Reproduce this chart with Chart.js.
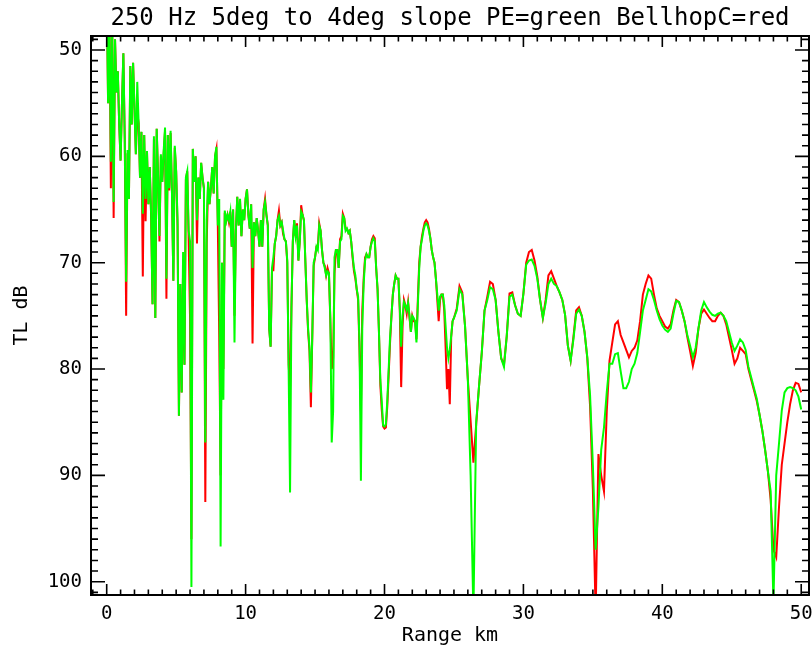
<!DOCTYPE html>
<html>
<head>
<meta charset="utf-8">
<title>250 Hz TL</title>
<script src="https://cdn.jsdelivr.net/npm/chart.js@4.4.1/dist/chart.umd.min.js"></script>
<style>
    html, body { margin: 0; padding: 0; background: #fff; }
    canvas { display: block; }
</style>
</head>
<body>
<canvas id="tlChart" width="812" height="653"></canvas>
<script>
// ===== DATA =====
const chartTitle = "250 Hz 5deg to 4deg slope PE=green BellhopC=red";
const xTitle = "Range km";
const yTitle = "TL dB";
const xTicks = [0, 10, 20, 30, 40, 50];
const yTicks = [50, 60, 70, 80, 90, 100];

// near field: 0.0 - 24.9 km, one value every 0.1 km
const nearStart = 0, nearStep = 0.1;
const peNear = [
    44, 55, 47, 60.5, 48, 64.3, 49, 54, 52, 57,
    60.4, 55, 50.3, 58.4, 71.8, 59.4, 64, 51.5, 57, 51.2,
    55.5, 59.8, 53, 56.9, 62, 57.7, 65.4, 58, 64, 59.5,
    64.5, 61, 65.5, 73.9, 58.1, 75.2, 57.4, 62, 67.5, 59.8,
    62.4, 59.5, 57.3, 71.5, 58, 63, 57.6, 63.5, 71.7, 59,
    61.4, 66, 84.4, 72, 82.2, 69, 79.6, 62, 61.4, 67,
    68, 100.5, 59.3, 62.4, 60, 66, 62, 64, 60.6, 62,
    63, 86.9, 66, 62.4, 64.5, 63, 61, 63.5, 60, 59.1,
    66.5, 64, 96.7, 70, 82.9, 65.1, 66.1, 65.5, 66, 65.2,
    68.5, 65, 77.5, 67, 63.8, 66.5, 64, 67.5, 65, 66,
    64, 63.1, 65.5, 66.8, 64.5, 70.5, 66.2, 67.5, 65.8, 67,
    68.5, 66, 68.5, 65, 64.3, 65.5, 66.5, 76.2, 77.9, 70.5,
    69.5, 68.2, 67.5, 66, 65.6, 66.5, 66.2, 67, 67.8, 68,
    69.8, 80.2, 91.6, 74.2, 68, 66, 67.5, 66.5, 69.8, 68,
    65.2, 65.5, 66, 69.8, 73.5, 76.2, 78, 82.2, 76.9, 70,
    69.5, 68.5, 68.8, 66.5, 67, 68.8, 70, 70.5, 71.2, 70.8,
    71, 75.2, 86.9, 84, 69.5, 68.8, 68.8, 70.5, 68, 67.8,
    65.6, 65.8, 67, 66.8, 67.2, 67, 68, 69.3, 70.5, 71.2,
    72.5, 73.2, 77.5, 90.5, 76, 72, 69.8, 69.2, 69.5, 69.5,
    68.5, 68, 67.7, 68, 70.5, 72.5, 76.5, 81, 83, 85.3,
    85.4, 85.2, 83, 80, 77, 75, 73, 72, 71.2, 71.5,
    71.5, 74.2, 77.9, 75, 73.7, 74, 74.5, 73.8, 75, 76.5,
    75, 75.2, 75.5, 77.5, 74, 70.5, 68.5, 67.8, 67, 66.5,
    66.3, 66.5, 67, 67.7, 68.8, 69.5, 70, 71.5, 73, 74.5,
    73.2, 73, 73, 74, 76, 78, 79, 78.2, 76.9, 75.5
];
const bellhopNear = [
    44, 55, 47, 63, 48, 65.8, 49, 54, 52, 57,
    60.4, 55, 50.3, 58.4, 75, 59.7, 64, 51.5, 57, 51.2,
    55.5, 59.8, 55.9, 56.9, 62, 57.7, 71.3, 58, 66.1, 59.5,
    64.5, 61, 65.8, 73.9, 58.4, 75.2, 57.4, 62, 68, 60,
    62.4, 59.8, 57.6, 73.4, 58, 63.2, 57.8, 63.5, 71.7, 59.2,
    61.4, 66.5, 84.4, 72, 82.2, 70.3, 79.6, 62.2, 61.4, 67.8,
    75.2, 96, 59.3, 62.4, 60, 68.2, 62, 64, 60.6, 62,
    63, 92.5, 68.2, 62.4, 64.5, 63, 61, 63.5, 60, 59.3,
    66.5, 76.7, 90, 70, 80, 65.3, 66.1, 65.5, 66.2, 65.2,
    68.5, 65, 75, 67, 63.8, 66.5, 64.2, 67.5, 65, 66,
    64, 63.1, 65.5, 66.8, 64.5, 77.6, 66.2, 67.5, 65.8, 67,
    68.5, 66, 68.5, 65, 64, 65.5, 66.5, 76.2, 77.9, 70.7,
    70.7, 68.2, 67.5, 66, 65.1, 66.5, 66.2, 67.3, 67.8, 68,
    70, 79.6, 82, 74.2, 68, 66, 67.5, 66.3, 69.8, 68,
    64.6, 65.5, 66, 69.8, 73.5, 76.5, 78.3, 83.6, 77, 70.3,
    69.5, 68.5, 68.5, 66.3, 67, 68.8, 70, 70.3, 71.2, 70.5,
    71, 75.5, 80, 79, 71, 68.8, 68.8, 70.5, 67.8, 67.5,
    65.4, 65.8, 66.8, 66.8, 67.2, 67, 68, 69.5, 70.8, 71.5,
    72.5, 73.5, 78.2, 84, 74.5, 71.5, 69.5, 69.2, 69.5, 69.5,
    68.5, 67.8, 67.5, 67.7, 70.5, 72.5, 76.5, 81.5, 83.8, 85.4,
    85.6, 85.5, 83.5, 80.5, 77.5, 75, 73, 72, 71.2, 71.5,
    71.5, 74.5, 81.7, 76, 73.5, 74, 74.8, 73.7, 75.2, 76.5,
    75, 75.5, 75.5, 77.2, 73.5, 70, 68.5, 67.5, 66.8, 66.2,
    66, 66.2, 66.8, 67.7, 68.8, 69.5, 70, 71.5, 73.5, 75.5,
    73.5, 73, 73, 74.5, 78, 81.9, 80, 83.3, 77, 75.5
];

// far field: 25.0 - 50.0 km, one value every 0.2 km
const farStart = 25, farStep = 0.2;
const peFar = [
    75.2, 74.5, 72.5, 73.0, 76.0,
    81.0, 90.0, 103, 85.0, 81.7,
    78.5, 74.5, 73.5, 72.3, 72.5,
    73.5, 76.5, 79.0, 79.8, 76.9,
    73.2, 73.0, 74.0, 74.8, 75.0,
    72.9, 70.2, 69.8, 69.7, 70.3,
    71.5, 73.5, 75.2, 73.8, 72.0,
    71.5, 72.0, 72.2, 72.8, 73.5,
    74.9, 77.8, 79.2, 77.2, 74.8,
    74.4, 75.0, 76.5, 78.9, 82.5,
    89.0, 97.0, 93.0, 87.6, 85.5,
    82.2, 79.5, 79.5, 78.6, 78.5,
    80.2, 81.8, 81.8, 81.2, 80.0,
    79.5, 78.5, 76.5, 74.5, 73.5,
    72.5, 72.7, 73.5, 74.5, 75.3,
    75.9, 76.3, 76.5, 76.2, 74.8,
    73.6, 73.7, 74.5, 75.5, 76.8,
    77.8, 78.9, 78.0, 76.2, 74.5,
    73.7, 74.2, 74.6, 74.9, 75.0,
    74.8, 74.7, 75.0, 75.5, 76.5,
    77.5, 78.3, 77.8, 77.2, 77.5,
    78.2, 79.8, 80.8, 81.8, 82.8,
    84.3, 85.8, 87.6, 89.6, 91.5,
    102, 90.0, 87.0, 83.9, 82.2,
    81.8, 81.7, 81.8, 82.0, 82.6,
    83.8
];
const bellhopFar = [
    75.2, 74.3, 72.2, 72.8, 76.0,
    81.0, 84.9, 88.8, 85.2, 81.7,
    78.5, 74.5, 73.2, 71.8, 72.0,
    73.5, 76.5, 79.0, 79.6, 76.9,
    72.9, 72.8, 74.0, 74.8, 75.0,
    72.9, 70.0, 69.0, 68.8, 69.8,
    71.3, 73.5, 75.2, 73.5, 71.2,
    70.8, 71.5, 72.2, 72.8, 73.5,
    74.9, 77.8, 79.2, 77.0, 74.5,
    74.2, 75.0, 76.5, 79.0, 83.5,
    91.3, 103, 88.0, 90.0, 91.5,
    84.0, 79.2, 77.5, 75.8, 75.5,
    76.8, 77.5, 78.2, 78.9, 78.3,
    78.0, 77.3, 75.5, 73.0, 72.0,
    71.2, 71.5, 73.0, 74.3, 75.0,
    75.5, 76.0, 76.2, 75.8, 74.5,
    73.5, 73.7, 74.5, 75.5, 77.0,
    78.3, 79.7, 78.5, 76.2, 74.8,
    74.4, 74.8, 75.2, 75.5, 75.5,
    75.0, 74.7, 75.0, 75.8, 77.0,
    78.2, 79.5, 79.0, 78.0, 78.3,
    78.6, 80.0, 81.0, 82.0, 83.0,
    84.3, 85.8, 87.6, 89.6, 92.3,
    97.0, 97.7, 93.0, 89.0, 87.0,
    85.0, 83.3, 82.0, 81.3, 81.4,
    82.2
];

// ===== HELPERS =====
function toPoints(values, start, step) {
    return values.map((v, i) => ({ x: +(start + i * step).toFixed(2), y: v }));
}

const pePoints = toPoints(peNear, nearStart, nearStep).concat(toPoints(peFar, farStart, farStep));
const bellhopPoints = toPoints(bellhopNear, nearStart, nearStep).concat(toPoints(bellhopFar, farStart, farStep));

const monoFont = "'DejaVu Sans Mono', 'Liberation Mono', monospace";

// IDL style frame: box on all four sides, ticks pointing inward
const idlFrame = {
    id: "idlFrame",
    afterDatasetsDraw(chart) {
        const { ctx, chartArea: a, scales: { x, y } } = chart;
        ctx.save();
        ctx.strokeStyle = "#000";
        ctx.lineWidth = 2;
        ctx.strokeRect(a.left, a.top, a.right - a.left, a.bottom - a.top);

        ctx.lineWidth = 1.6;
        ctx.beginPath();
        for (let v = Math.ceil(x.min); v <= x.max; v++) {
            const px = x.getPixelForValue(v);
            const len = v % 10 === 0 ? 11 : 5.5;
            ctx.moveTo(px, a.bottom); ctx.lineTo(px, a.bottom - len);
            ctx.moveTo(px, a.top); ctx.lineTo(px, a.top + len);
        }
        for (let v = Math.ceil(y.min); v <= y.max; v++) {
            const py = y.getPixelForValue(v);
            const len = v % 10 === 0 ? 14 : 7;
            ctx.moveTo(a.left, py); ctx.lineTo(a.left + len, py);
            ctx.moveTo(a.right, py); ctx.lineTo(a.right - len, py);
        }
        ctx.stroke();
        ctx.restore();
    }
};

// ===== CHART =====
new Chart(document.getElementById("tlChart"), {
    type: "line",
    data: {
        datasets: [
            {
                label: "PE",
                data: pePoints,
                borderColor: "#00ff00",
                borderWidth: 2,
                pointRadius: 0,
                tension: 0,
                clip: 0
            },
            {
                label: "BellhopC",
                data: bellhopPoints,
                borderColor: "#ff0000",
                borderWidth: 2,
                pointRadius: 0,
                tension: 0,
                clip: 0
            }
        ]
    },
    options: {
        responsive: false,
        devicePixelRatio: 1,
        animation: false,
        events: [],
        layout: { padding: { left: 0, right: 3, top: 0, bottom: 0 } },
        plugins: {
            legend: { display: false },
            tooltip: { enabled: false },
            title: {
                display: true,
                text: chartTitle,
                color: "#000",
                fullSize: false,
                font: { family: monoFont, size: 24, weight: "normal" },
                padding: { top: 4, bottom: 3.2 }
            }
        },
        scales: {
            x: {
                type: "linear",
                min: -1.13,
                max: 50.56,
                afterBuildTicks: s => { s.ticks = xTicks.map(v => ({ value: v })); },
                afterFit: s => { s.height = 58; s.paddingLeft = 0; s.paddingRight = 0; },
                grid: { display: false, drawTicks: false },
                border: { display: false },
                ticks: {
                    color: "#000",
                    padding: 8,
                    maxRotation: 0,
                    autoSkip: false,
                    font: { family: monoFont, size: 19 }
                },
                title: {
                    display: true,
                    text: xTitle,
                    color: "#000",
                    font: { family: monoFont, size: 20 },
                    padding: { top: 0, bottom: 5 }
                }
            },
            y: {
                type: "linear",
                reverse: true,
                min: 48.683,
                max: 101.25,
                afterBuildTicks: s => { s.ticks = yTicks.map(v => ({ value: v })); },
                afterFit: s => { s.width = 91; s.paddingTop = 0; s.paddingBottom = 0; },
                grid: { display: false, drawTicks: false },
                border: { display: false },
                ticks: {
                    color: "#000",
                    padding: 9,
                    font: { family: monoFont, size: 19 }
                },
                title: {
                    display: true,
                    text: yTitle,
                    color: "#000",
                    font: { family: monoFont, size: 20 },
                    padding: { top: 9.5, bottom: 0 }
                }
            }
        }
    },
    plugins: [idlFrame]
});
</script>
</body>
</html>
